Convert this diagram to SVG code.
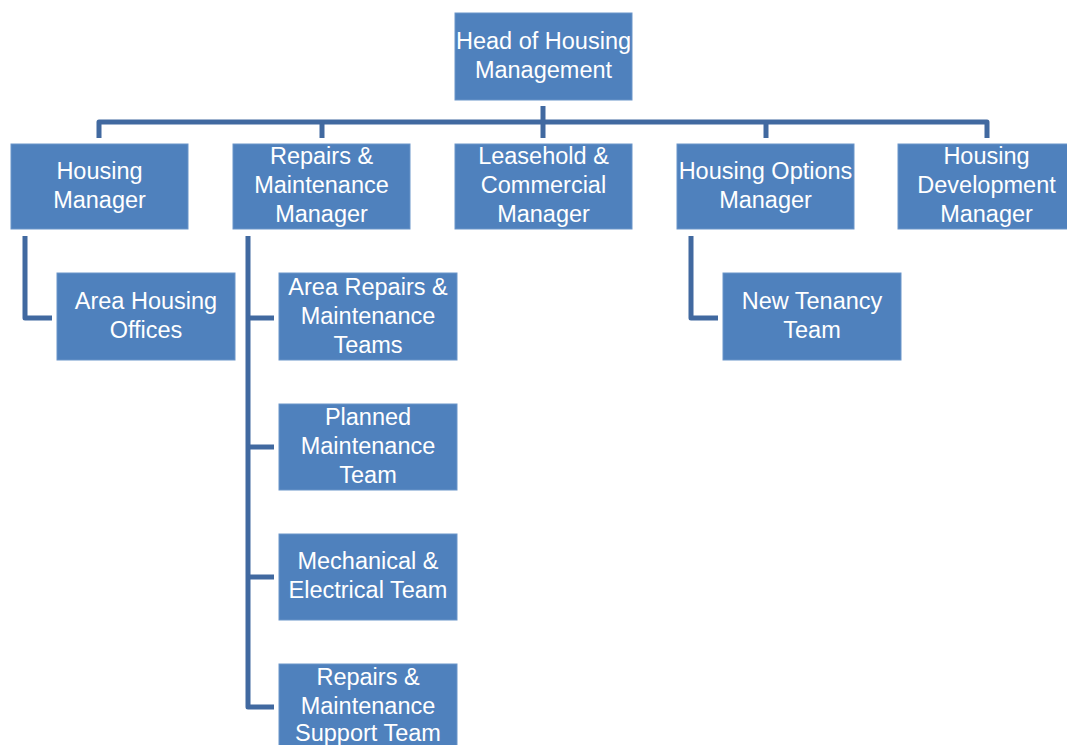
<svg xmlns="http://www.w3.org/2000/svg" width="1067" height="745" viewBox="0 0 1067 745">
<style>
.box{fill:#4F81BD;stroke:#6B95C9;stroke-width:1}
.t{fill:#FFFFFF;font-family:"Liberation Sans",Arial,sans-serif;font-size:23.5px;text-anchor:middle}
.c{fill:none;stroke:#4169A0;stroke-width:5;stroke-linejoin:round;stroke-linecap:butt}
</style>
<rect width="1067" height="745" fill="#FFFFFF"/>
<g id="connectors">
<path class="c" d="M99 138 V122 H987 V138"/>
<path class="c" d="M322 122 V138"/>
<path class="c" d="M766 122 V138"/>
<path class="c" d="M543 106 V138"/>
<path class="c" d="M25 236 V318 H52"/>
<path class="c" d="M248 236 V707 H274"/>
<path class="c" d="M248 318 H274"/>
<path class="c" d="M248 447 H274"/>
<path class="c" d="M248 577 H274"/>
<path class="c" d="M691 236 V318 H718"/>
</g>
<g id="head">
<rect class="box" x="455" y="13" width="177" height="87"/>
<text class="t" x="543.5" y="49">Head of Housing</text>
<text class="t" x="543.5" y="78">Management</text>
</g>
<g id="housing-manager">
<rect class="box" x="11" y="144" width="177" height="85"/>
<text class="t" x="99.5" y="179">Housing</text>
<text class="t" x="99.5" y="208">Manager</text>
</g>
<g id="repairs-manager">
<rect class="box" x="233" y="144" width="177" height="85"/>
<text class="t" x="321.5" y="164">Repairs &amp;</text>
<text class="t" x="321.5" y="193">Maintenance</text>
<text class="t" x="321.5" y="222">Manager</text>
</g>
<g id="leasehold-manager">
<rect class="box" x="455" y="144" width="177" height="85"/>
<text class="t" x="543.5" y="164">Leasehold &amp;</text>
<text class="t" x="543.5" y="193">Commercial</text>
<text class="t" x="543.5" y="222">Manager</text>
</g>
<g id="options-manager">
<rect class="box" x="677" y="144" width="177" height="85"/>
<text class="t" x="765.5" y="179">Housing Options</text>
<text class="t" x="765.5" y="208">Manager</text>
</g>
<g id="development-manager">
<rect class="box" x="898" y="144" width="177" height="85"/>
<text class="t" x="986.5" y="164">Housing</text>
<text class="t" x="986.5" y="193">Development</text>
<text class="t" x="986.5" y="222">Manager</text>
</g>
<g id="area-housing-offices">
<rect class="box" x="57" y="273" width="178" height="87"/>
<text class="t" x="146" y="309">Area Housing</text>
<text class="t" x="146" y="338">Offices</text>
</g>
<g id="area-repairs-teams">
<rect class="box" x="279" y="273" width="178" height="87"/>
<text class="t" x="368" y="295">Area Repairs &amp;</text>
<text class="t" x="368" y="324">Maintenance</text>
<text class="t" x="368" y="353">Teams</text>
</g>
<g id="planned-maintenance">
<rect class="box" x="279" y="404" width="178" height="86"/>
<text class="t" x="368" y="425">Planned</text>
<text class="t" x="368" y="454">Maintenance</text>
<text class="t" x="368" y="483">Team</text>
</g>
<g id="mechanical-electrical">
<rect class="box" x="279" y="534" width="178" height="86"/>
<text class="t" x="368" y="569">Mechanical &amp;</text>
<text class="t" x="368" y="598">Electrical Team</text>
</g>
<g id="support-team">
<rect class="box" x="279" y="664" width="178" height="86"/>
<text class="t" x="368" y="685">Repairs &amp;</text>
<text class="t" x="368" y="714">Maintenance</text>
<text class="t" x="368" y="741">Support Team</text>
</g>
<g id="new-tenancy">
<rect class="box" x="723" y="273" width="178" height="87"/>
<text class="t" x="812" y="309">New Tenancy</text>
<text class="t" x="812" y="338">Team</text>
</g>
</svg>
